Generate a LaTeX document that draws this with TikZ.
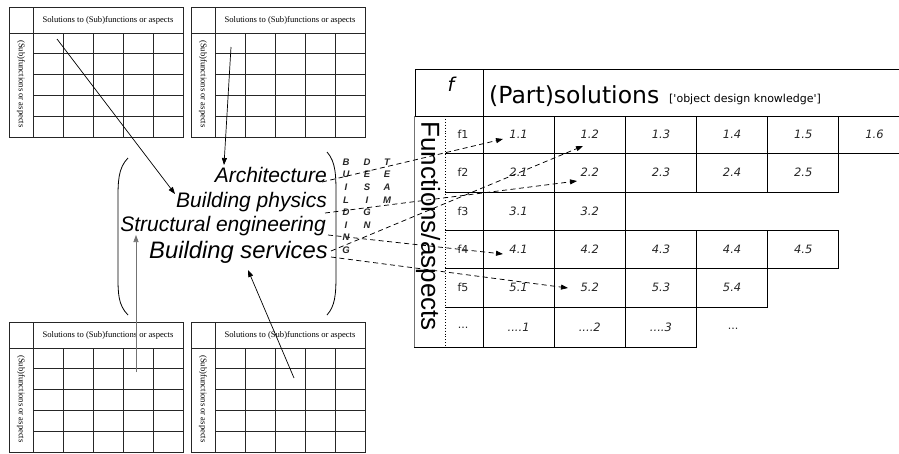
\documentclass[tikz,border=0pt]{standalone}
\usepackage{fontspec}
\setmainfont{Liberation Serif}
\newfontfamily\helv{Liberation Sans}
\newfontfamily\verd{DejaVu Sans}
\usetikzlibrary{arrows.meta}

\tikzset{
  solgrid/.pic={
    \draw[gridline] (0,0) rectangle (174,130);
    \draw[gridline] (0,26) -- (174,26);
    \draw[gridline] (24,0) -- (24,130);
    \foreach \k in {1,...,4} {
      \draw[gridline] ({24+30*\k},26) -- ({24+30*\k},130);
      \draw[gridline] (24,{26+20.8*\k}) -- (174,{26+20.8*\k});
    }
    \node[gridtext] (-head) at (99,13.5) {Solutions to (Sub)functions or aspects};
    \node[gridtext, rotate=-90] (-side) at (12,77) {(Sub)functions or aspects};
  }
}

\begin{document}
\begin{tikzpicture}[x=1pt,y=-1pt,
  gridline/.style={draw=black!85,line width=0.7pt},
  gridtext/.style={font=\fontsize{8.6}{10}\selectfont,inner sep=0pt},
  feed/.style={line width=0.7pt,-{Triangle[length=7pt,width=5pt]}},
  link/.style={line width=0.75pt,dash pattern=on 5pt off 3.5pt,-{Triangle[length=7pt,width=5pt]}},
  discipline/.style={font=\helv\itshape\fontsize{21}{25}\selectfont,anchor=base east,inner sep=0pt},
  teamletter/.style={font=\helv\bfseries\itshape\fontsize{9.5}{10}\selectfont,text=black!85,inner sep=0pt},
  tabline/.style={line width=1pt,draw=black},
  cellnum/.style={font=\verd\itshape\fontsize{11.5}{13}\selectfont,text=black!85,inner sep=0pt},
  flabel/.style={font=\verd\fontsize{11}{13}\selectfont,text=black!85,inner sep=0pt},
]
\useasboundingbox (0,0) rectangle (899,453);

% ---- four morphological charts ----
\pic (gA) at (9,7) {solgrid};
\pic (gB) at (191,7) {solgrid};
\pic (gC) at (9,322) {solgrid};
\pic (gD) at (191,322) {solgrid};

% ---- disciplines of the design team ----
\node[discipline] (arch) at (327,182) {Architecture};
\node[discipline] (phys) at (327,207) {Building physics};
\node[discipline] (struct) at (326,231) {Structural engineering};
\node[discipline,font=\helv\itshape\fontsize{23.8}{28}\selectfont] (serv) at (328,258) {Building services};

% large brackets round the team
\draw[line width=0.8pt] (128,158) .. controls (118,168) and (118,182) .. (118,200)
  -- (118,275) .. controls (118,293) and (118,305) .. (128,315);
\draw[line width=0.8pt] (327,152) .. controls (336,162) and (336,176) .. (336,196)
  -- (336,275) .. controls (336,295) and (335,306) .. (327,315);

% vertical caption BUILDING / DESIGN / TEAM
\foreach \l [count=\i] in {B,U,I,L,D,I,N,G}
  \node[teamletter] (bl\i) at (346,{162+12.6*(\i-1)}) {\l};
\foreach \l [count=\i] in {D,E,S,I,G,N}
  \node[teamletter] (dl\i) at (367,{162+12.6*(\i-1)}) {\l};
\foreach \l [count=\i] in {T,E,A,M}
  \node[teamletter] (tl\i) at (387,{162+12.6*(\i-1)}) {\l};

% ---- inputs from the charts ----
\coordinate (inA) at (57,39);
\coordinate (inB) at (231,47);
\coordinate (inC) at (136,372);
\coordinate (inD) at (294,378);
\coordinate (toPhys) at (175,194);
\coordinate (toArch) at (224,165);
\coordinate (toStruct) at (136,235);
\coordinate (toServ) at (248,270);
\draw[feed] (inA) -- (toPhys);
\draw[feed] (inB) -- (toArch);
\draw[feed,draw=black!55,fill=black!55] (inC) -- (toStruct);
\draw[feed] (inD) -- (toServ);

% ---- table of (part)solutions ----
\draw[tabline] (910,69) -- (415,69) -- (415,116) -- (910,116);
\draw[tabline] (483,69) -- (483,116);
\draw[black!55,line width=0.9pt] (414,116) -- (414,347);
\draw[tabline] (414,347) -- (445,347);
\draw[dotted,line width=0.9pt] (445,116) -- (445,347);

\foreach \t/\b/\n in {116/153/6,153/192/5,192/230/2,230/268/5,268/307/4,307/347/3} {
  \draw[tabline] (445,\t) -- ({483+71.17*\n},\t);
  \draw[tabline] (445,\b) -- ({483+71.17*\n},\b);
  \foreach \j in {0,...,\n}
    \draw[tabline] ({483+71.17*\j},\t) -- ({483+71.17*\j},\b);
}

\node[font=\verd\itshape\fontsize{19}{22}\selectfont,inner sep=0pt] (fhead) at (451,84) {f};
\node[font=\verd\fontsize{23.5}{26}\selectfont,anchor=base west,inner sep=0pt] (parts) at (489,103) {(Part)solutions};
\node[font=\verd\fontsize{11}{13}\selectfont,anchor=base west,inner sep=0pt] (odk) at (669,102) {['object design knowledge']};
\node[font=\helv\fontsize{26}{28}\selectfont,rotate=-90,inner sep=0pt] (funcs) at (428,226) {Functions/aspects};

\foreach \n/\cy [count=\r] in {6/134.5,5/172.5,2/211,5/249,4/287.5} {
  \node[flabel] (f\r) at (463,\cy) {f\r};
  \foreach \j in {1,...,\n}
    \node[cellnum] (c\r-\j) at ({483+71.17*(\j-0.5)},\cy) {\r.\j};
}
\node[flabel] (fdots) at (463,328) {...};
\foreach \j in {1,2,3}
  \node[cellnum] (cd-\j) at ({483+71.17*(\j-0.5)},327) {....\j};
\node[flabel] (more) at (733,329) {...};

% ---- links from the team to the solutions ----
\coordinate (oArch) at (322,182);
\coordinate (oPhys) at (325,213);
\coordinate (oStruct) at (328,235);
\coordinate (oServA) at (331,251);
\coordinate (oServB) at (331,257);
\coordinate (t11) at (503,139);
\coordinate (t12) at (583,146);
\coordinate (t22) at (577,181);
\coordinate (t41) at (503,254);
\coordinate (t52) at (568,288);
\draw[link] (oArch) -- (t11);
\draw[link] (oPhys) -- (t22);
\draw[link] (oStruct) -- (t41);
\draw[link] (oServA) -- (t12);
\draw[link] (oServB) -- (t52);
\end{tikzpicture}
\end{document}
